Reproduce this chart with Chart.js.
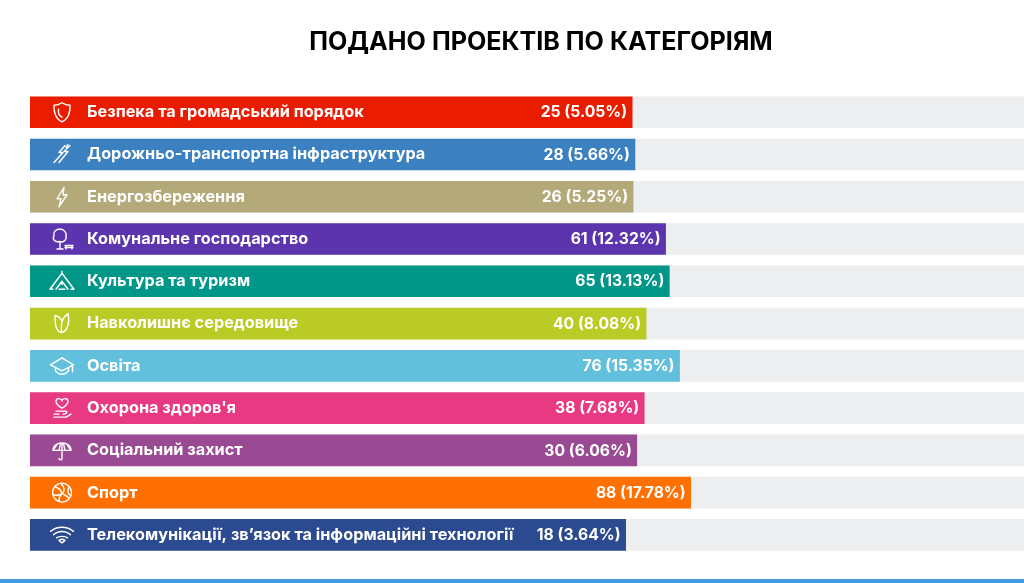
<!DOCTYPE html>
<html lang="uk"><head><meta charset="utf-8">
<style>
html,body{margin:0;padding:0;background:#fff;overflow:hidden}
#w{position:relative;width:1024px;height:583px}
canvas{display:block}
#strip{position:absolute;left:0;right:0;top:579px;height:4px;background:#479ADB}
</style>
<script src="https://cdn.jsdelivr.net/npm/chart.js@4"></script>
</head><body><div id="w"><canvas id="c" width="1024" height="583"></canvas><div id="strip"></div></div>
<script>
const chartTitle = 'ПОДАНО ПРОЕКТІВ ПО КАТЕГОРІЯМ';
const categories = ['Безпека та громадський порядок','Дорожньо-транспортна інфраструктура','Енергозбереження','Комунальне господарство','Культура та туризм','Навколишнє середовище','Освіта',"Охорона здоров'я",'Соціальний захист','Спорт','Телекомунікації, зв’язок та інформаційні технології'];
const counts = [25,28,26,61,65,40,76,38,30,88,18];
const percents = ['5.05','5.66','5.25','12.32','13.13','8.08','15.35','7.68','6.06','17.78','3.64'];
const colours = ['#EA1C00','#3B80C0','#B3A979','#5C35AE','#009688','#BBCB25','#62C0DD','#E83A82','#9A4A92','#FF7000','#2C4A90'];
const axisMin = -623.2, axisMax = 446.8;
const FONT = 'Inter';

const P = (ctx, d) => ctx.stroke(new Path2D(d));
const icons = [
 c=>{P(c,'M0 -9.5C3 -7.5 5 -7 8 -7C8.5 0 6 7 0 9.5C-6 7 -8.5 0 -8 -7C-5 -7 -3 -7.5 0 -9.5ZM-3.5 -3C-4 1 -2 4 0 5')},
 c=>{P(c,'M3 -9L-3 -2L1 -2L-8 8M8 -9L2 -3L6 -3L-3 8M6 -10L4 -7')},
 c=>{P(c,'M2 -9.5L-5 2L-1 2L-3 10L5 -2L1 -2Z')},
 c=>{P(c,'M-2 -10C-7 -10 -9 -6 -8 -3.5C-10 0 -7 3.5 -3 2.5C1 4 5 1 4 -3C5 -6 2 -10 -2 -10ZM-2 2.5L-2 10M-5 10L1 10M3 6.5L11 6.5M4 6.5L4 10M10 6.5L10 10M3 8.5L11 8.5')},
 c=>{P(c,'M-12 8L0 -8L12 8M-6 8L0 0L6 8M0 -8L0 -10M-12 8L-9 8M-3 8L3 8M9 8L12 8M0 0L0 3')},
 c=>{P(c,'M0 9C-6 8 -7 2 -7 -8C-3 -7 -1 -5 0 -2C1 -5 3 -8 6 -10C8 -2 6 7 0 9ZM0 -2C-1 3 -1 6 0 9')},
 c=>{P(c,'M0 -8L11.5 -1L0 5L-11.5 -1ZM-6.5 2L-6.5 5C-3 9.5 3 9.5 6.5 5L6.5 2M10.5 -1L10.5 6')},
 c=>{P(c,'M0 0C-9 -5 -6 -10 -3 -9.5C-1.5 -9.3 0 -8 0 -7C0 -8 1.5 -9.3 3 -9.5C6 -10 9 -5 0 0ZM-6 3L4 3C6 4 4 6 1 6M-8 9L4 9L9 6M-8 6L-3 6')},
 c=>{P(c,'M-9 0C-9 -10 9 -10 9 0ZM0 -7.5L0 8C0 10 -3 10 -3 8M-9 0L-4.5 -6.5M9 0L4.5 -6.5M-3 0L-1.5 -7M3 0L1.5 -7')},
 c=>{c.beginPath();c.arc(0,0,9.5,0,Math.PI*2);c.stroke();P(c,'M-1 -9C3 -5 3 -1 0 1C-3 3 -8 3 -9 2M0 1C3 2 7 5 7 6M7 -6C5 -1 6 2 9 3M-7 -6C-3 -4 -1 -3 0 1M-3 8C-3 4 -1 2 0 1')},
 c=>{P(c,'M-11.5 -3.5C-5 -9 5 -9 11.5 -3.5M-8.5 0C-4 -4.5 4 -4.5 8.5 0M-5.5 3C-3 1 3 1 5.5 3M0 8L-3 5.5C-1 4 1 4 3 5.5Z')}
];

const overlay = {
  id:'overlay',
  afterDatasetsDraw(chart){
    const {ctx,scales:{x,y}} = chart;
    ctx.save();
    ctx.strokeStyle='#fff';ctx.lineWidth=1.4;ctx.lineJoin='round';ctx.lineCap='round';
    counts.forEach((v,i)=>{
      ctx.save();ctx.translate(x.left+32,y.getPixelForValue(i));icons[i](ctx);ctx.restore();
    });
    ctx.fillStyle='#fff';ctx.textAlign='right';ctx.textBaseline='middle';
    ctx.font='700 15.7px '+FONT;
    counts.forEach((v,i)=>{
      ctx.fillText(v+' ('+percents[i]+'%)',x.getPixelForValue(v)-5,y.getPixelForValue(i)+0.5);
    });
    ctx.restore();
  }
};
const titleShift = {id:'titleShift',beforeDraw(chart){chart.titleBlock.left=58;}};

new Chart(document.getElementById('c'),{
  type:'bar',
  data:{labels:categories,datasets:[
    {label:'Подано проектів',data:counts,backgroundColor:colours,base:axisMin,order:1,grouped:false,barThickness:31,borderWidth:0},
    {label:'Фон',data:counts.map(()=>axisMax),backgroundColor:'#EDEEF0',base:axisMin,order:2,grouped:false,barThickness:31,borderWidth:0}
  ]},
  plugins:[titleShift,overlay],
  options:{
    indexAxis:'y',responsive:false,animation:false,
    layout:{padding:{left:30,right:0,top:0,bottom:27}},
    plugins:{
      legend:{display:false},tooltip:{enabled:false},
      title:{display:true,text:chartTitle,color:'#000',font:{family:FONT,size:25.1,weight:'700',lineHeight:1},padding:{top:30,bottom:36}}
    },
    scales:{
      x:{type:'linear',min:axisMin,max:axisMax,display:false,ticks:{display:false}},
      y:{position:'left',grid:{display:false},border:{display:false},
         afterFit(a){a.width=0;a.paddingTop=0;a.paddingBottom=0;},
         ticks:{mirror:true,z:1,padding:57,color:'#fff',autoSkip:false,font:{family:FONT,size:16.3,weight:'700'}}}
    }
  }
});
</script></body></html>
